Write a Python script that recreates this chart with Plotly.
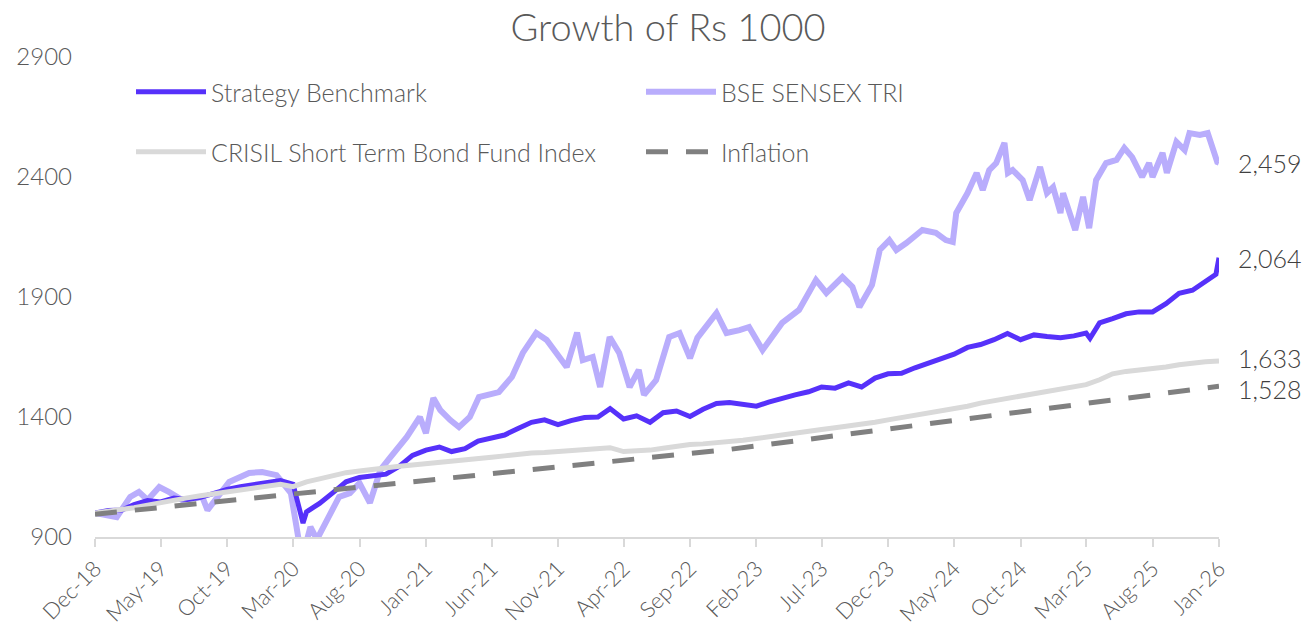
import pandas as pd
import plotly.graph_objects as go

# ---- data ----
strategy_dates = [
    "2018-12-01", "2019-01-01", "2019-02-01", "2019-03-01", "2019-04-01", "2019-05-01",
    "2019-06-01", "2019-07-01", "2019-08-01", "2019-09-01", "2019-10-01", "2019-11-01",
    "2019-12-01", "2020-01-01", "2020-02-01", "2020-03-01", "2020-03-24", "2020-04-01",
    "2020-05-01", "2020-06-01", "2020-07-01", "2020-08-01", "2020-09-01", "2020-10-01",
    "2020-11-01", "2020-12-01", "2021-01-01", "2021-02-01", "2021-03-01", "2021-04-01",
    "2021-05-01", "2021-06-01", "2021-07-01", "2021-08-01", "2021-09-01", "2021-10-01",
    "2021-11-01", "2021-12-01", "2022-01-01", "2022-02-01", "2022-03-01", "2022-04-01",
    "2022-05-01", "2022-06-01", "2022-07-01", "2022-08-01", "2022-09-01", "2022-10-01",
    "2022-11-01", "2022-12-01", "2023-01-01", "2023-02-01", "2023-03-01", "2023-04-01",
    "2023-05-01", "2023-06-01", "2023-07-01", "2023-08-01", "2023-09-01", "2023-10-01",
    "2023-11-01", "2023-12-01", "2024-01-01", "2024-02-01", "2024-03-01", "2024-04-01",
    "2024-05-01", "2024-06-01", "2024-07-01", "2024-08-01", "2024-09-01", "2024-10-01",
    "2024-11-01", "2024-12-01", "2025-01-01", "2025-02-01", "2025-03-01", "2025-03-10",
    "2025-04-01", "2025-05-01", "2025-06-01", "2025-07-01", "2025-08-01", "2025-09-01",
    "2025-10-01", "2025-11-01", "2025-12-01", "2025-12-25", "2026-01-01",
]
strategy = [
    1000, 1010, 1012, 1035, 1052, 1046,
    1062, 1056, 1065, 1082, 1098, 1110,
    1118, 1128, 1135, 1120, 958, 1005,
    1040, 1085, 1130, 1148, 1155, 1162,
    1195, 1240, 1262, 1275, 1256, 1268,
    1300, 1315, 1325, 1352, 1378, 1388,
    1368, 1385, 1398, 1400, 1435, 1392,
    1405, 1378, 1418, 1425, 1402, 1432,
    1456, 1460, 1452, 1445, 1462, 1480,
    1492, 1505, 1525, 1520, 1542, 1525,
    1562, 1580, 1582, 1605, 1622, 1645,
    1662, 1690, 1702, 1722, 1748, 1722,
    1742, 1735, 1730, 1738, 1750, 1728,
    1792, 1810, 1830, 1838, 1838, 1872,
    1915, 1928, 1962, 1995, 2064,
]

sensex_dates = [
    "2018-12-01", "2019-01-20", "2019-02-20", "2019-03-12", "2019-04-01", "2019-04-28",
    "2019-05-20", "2019-06-20", "2019-08-05", "2019-08-17", "2019-10-06", "2019-11-21",
    "2019-12-21", "2020-01-23", "2020-02-25", "2020-03-23", "2020-04-01", "2020-04-10",
    "2020-04-25", "2020-05-20", "2020-06-15", "2020-07-10", "2020-08-01", "2020-08-25",
    "2020-09-18", "2020-10-10", "2020-11-18", "2020-12-18", "2021-01-01", "2021-01-18",
    "2021-02-03", "2021-02-26", "2021-03-18", "2021-04-12", "2021-05-03", "2021-06-18",
    "2021-07-18", "2021-08-12", "2021-09-12", "2021-10-06", "2021-11-06", "2021-11-21",
    "2021-12-15", "2021-12-28", "2022-01-20", "2022-02-06", "2022-02-28", "2022-03-22",
    "2022-04-15", "2022-05-06", "2022-05-18", "2022-06-15", "2022-07-15", "2022-08-08",
    "2022-09-01", "2022-09-18", "2022-11-01", "2022-11-24", "2022-12-24", "2023-01-15",
    "2023-02-15", "2023-03-02", "2023-04-01", "2023-05-10", "2023-06-18", "2023-07-12",
    "2023-08-18", "2023-09-10", "2023-09-26", "2023-10-25", "2023-11-12", "2023-12-04",
    "2023-12-20", "2024-01-12", "2024-02-18", "2024-03-20", "2024-04-12", "2024-04-28",
    "2024-05-06", "2024-06-01", "2024-06-22", "2024-07-06", "2024-07-21", "2024-08-06",
    "2024-08-25", "2024-09-02", "2024-09-13", "2024-10-06", "2024-10-22", "2024-11-15",
    "2024-12-01", "2024-12-15", "2025-01-01", "2025-01-07", "2025-02-04", "2025-02-22",
    "2025-03-08", "2025-03-24", "2025-04-16", "2025-05-10", "2025-05-28", "2025-06-15",
    "2025-07-08", "2025-07-24", "2025-08-01", "2025-08-24", "2025-09-03", "2025-09-25",
    "2025-10-14", "2025-10-25", "2025-11-18", "2025-12-06", "2025-12-18", "2025-12-28",
    "2026-01-01",
]
sensex = [
    1000, 983, 1067, 1088, 1054, 1108,
    1088, 1054, 1067, 1012, 1129, 1167,
    1171, 1158, 1083, 790, 880, 942,
    890, 971, 1067, 1083, 1125, 1042,
    1179, 1230, 1317, 1400, 1333, 1479,
    1429, 1387, 1358, 1400, 1483, 1504,
    1567, 1667, 1750, 1721, 1650, 1608,
    1752, 1637, 1650, 1525, 1733, 1667,
    1525, 1596, 1492, 1554, 1733, 1750,
    1645, 1730, 1833, 1750, 1762, 1775,
    1679, 1720, 1792, 1846, 1971, 1917,
    1983, 1942, 1858, 1950, 2096, 2137,
    2096, 2125, 2179, 2167, 2137, 2129,
    2250, 2333, 2417, 2346, 2429, 2458,
    2542, 2417, 2429, 2387, 2304, 2442,
    2333, 2358, 2250, 2333, 2179, 2317,
    2187, 2387, 2458, 2471, 2521, 2483,
    2400, 2458, 2400, 2500, 2417, 2546,
    2512, 2583, 2575, 2583, 2512, 2462,
    2459,
]

crisil_dates = pd.date_range("2018-12-01", "2026-01-01", freq="MS")
crisil = [
    1000, 1007, 1013, 1022, 1033, 1044, 1053, 1063, 1072, 1080, 1088, 1095,
    1102, 1110, 1120, 1110, 1130, 1142, 1155, 1168, 1175, 1180, 1185, 1195,
    1200, 1205, 1208, 1212, 1218, 1225, 1232, 1238, 1245, 1250, 1252, 1256,
    1260, 1263, 1266, 1272, 1256, 1258, 1262, 1270, 1280, 1285, 1288, 1292,
    1298, 1303, 1310, 1318, 1325, 1332, 1340, 1348, 1355, 1362, 1370, 1378,
    1388, 1397, 1405, 1415, 1425, 1435, 1445, 1458, 1468, 1480, 1490, 1500,
    1508, 1518, 1527, 1535, 1555, 1580, 1590, 1596, 1600, 1608, 1618, 1625,
    1630, 1633,
]

inflation_dates = ["2018-12-01", "2019-12-01", "2020-12-01", "2021-12-01", "2022-12-01",
                   "2023-12-01", "2024-12-01", "2025-12-01", "2026-01-01"]
inflation = [995, 1062, 1128, 1195, 1265, 1350, 1438, 1524, 1528]

tick_dates = ["2018-12-01", "2019-05-01", "2019-10-01", "2020-03-01", "2020-08-01",
              "2021-01-01", "2021-06-01", "2021-11-01", "2022-04-01", "2022-09-01",
              "2023-02-01", "2023-07-01", "2023-12-01", "2024-05-01", "2024-10-01",
              "2025-03-01", "2025-08-01", "2026-01-01"]
tick_labels = ["Dec-18", "May-19", "Oct-19", "Mar-20", "Aug-20", "Jan-21", "Jun-21",
               "Nov-21", "Apr-22", "Sep-22", "Feb-23", "Jul-23", "Dec-23", "May-24",
               "Oct-24", "Mar-25", "Aug-25", "Jan-26"]

end_labels = ["2,459", "2,064", "1,633", "1,528"]
end_shifts = [0, 0, 3, -3]

FONT = "Lato"
TXT = "#595959"

fig = go.Figure()
fig.add_trace(go.Scatter(x=sensex_dates, y=sensex, mode="lines", name="BSE SENSEX TRI",
                         line=dict(color="#B9ADFC", width=6), legend="legend2"))
fig.add_trace(go.Scatter(x=strategy_dates, y=strategy, mode="lines", name="Strategy Benchmark",
                         line=dict(color="#5631FA", width=5), legend="legend"))
fig.add_trace(go.Scatter(x=crisil_dates, y=crisil, mode="lines",
                         name="CRISIL Short Term Bond Fund Index",
                         line=dict(color="#D9D9D9", width=5), legend="legend3"))
fig.add_trace(go.Scatter(x=inflation_dates, y=inflation, mode="lines", name="Inflation",
                         line=dict(color="#808080", width=5, dash="22px,18px"), legend="legend4"))

# end-of-line value labels
for val, lab, sh in zip([sensex[-1], strategy[-1], crisil[-1], inflation[-1]], end_labels, end_shifts):
    fig.add_annotation(x="2026-01-01", y=val, text=lab, showarrow=False,
                       xanchor="left", xshift=18, yshift=sh, borderpad=0,
                       font=dict(size=25, color="#404040", family=FONT, weight=300))

W, H = 1309, 627
L, T = 95, 57
PW, PH = 1124, 480

leg = dict(orientation="h", itemwidth=70, bgcolor="rgba(0,0,0,0)", visible=True,
           font=dict(size=25, color=TXT, family=FONT, weight=300),
           xanchor="left", yanchor="middle")
x1 = 36 / PW
x2 = 546 / PW
y1 = (PH - 35) / PH
y2 = (PH - 95) / PH

fig.update_layout(
    width=W, height=H,
    showlegend=True,
    paper_bgcolor="white", plot_bgcolor="white",
    margin=dict(l=L, r=W - L - PW, t=T, b=H - T - PH),
    font=dict(family=FONT, color=TXT, weight=300),
    title=dict(text="Growth of Rs 1000", x=668 / W, xanchor="center", y=1 - 28 / H,
               yanchor="middle",
               font=dict(size=38, color=TXT, family=FONT, weight=300)),
    legend=dict(leg, x=x1, y=y1),
    legend2=dict(leg, x=x2, y=y1),
    legend3=dict(leg, x=x1, y=y2),
    legend4=dict(leg, x=x2, y=y2),
    xaxis=dict(type="date", range=["2018-12-01", "2026-01-01"], tickvals=tick_dates,
               ticktext=tick_labels, tickangle=-45, showgrid=False, showline=True,
               linecolor="#D9D9D9", linewidth=2, ticks="outside", ticklen=8,
               tickcolor="#D9D9D9", tickwidth=2, automargin=False,
               tickfont=dict(size=22, color=TXT, family=FONT, weight=300),
               zeroline=False),
    yaxis=dict(range=[900, 2900], tickvals=[900, 1400, 1900, 2400, 2900], showgrid=False,
               zeroline=False, showline=False, ticks="", ticklabelstandoff=22,
               automargin=False,
               tickfont=dict(size=24, color=TXT, family=FONT, weight=300)),
)

# drop the page's default body margin so the figure fills the window exactly
fig.write_html("out.html", config={"displayModeBar": False},
               post_script="document.body.style.margin='0';")
